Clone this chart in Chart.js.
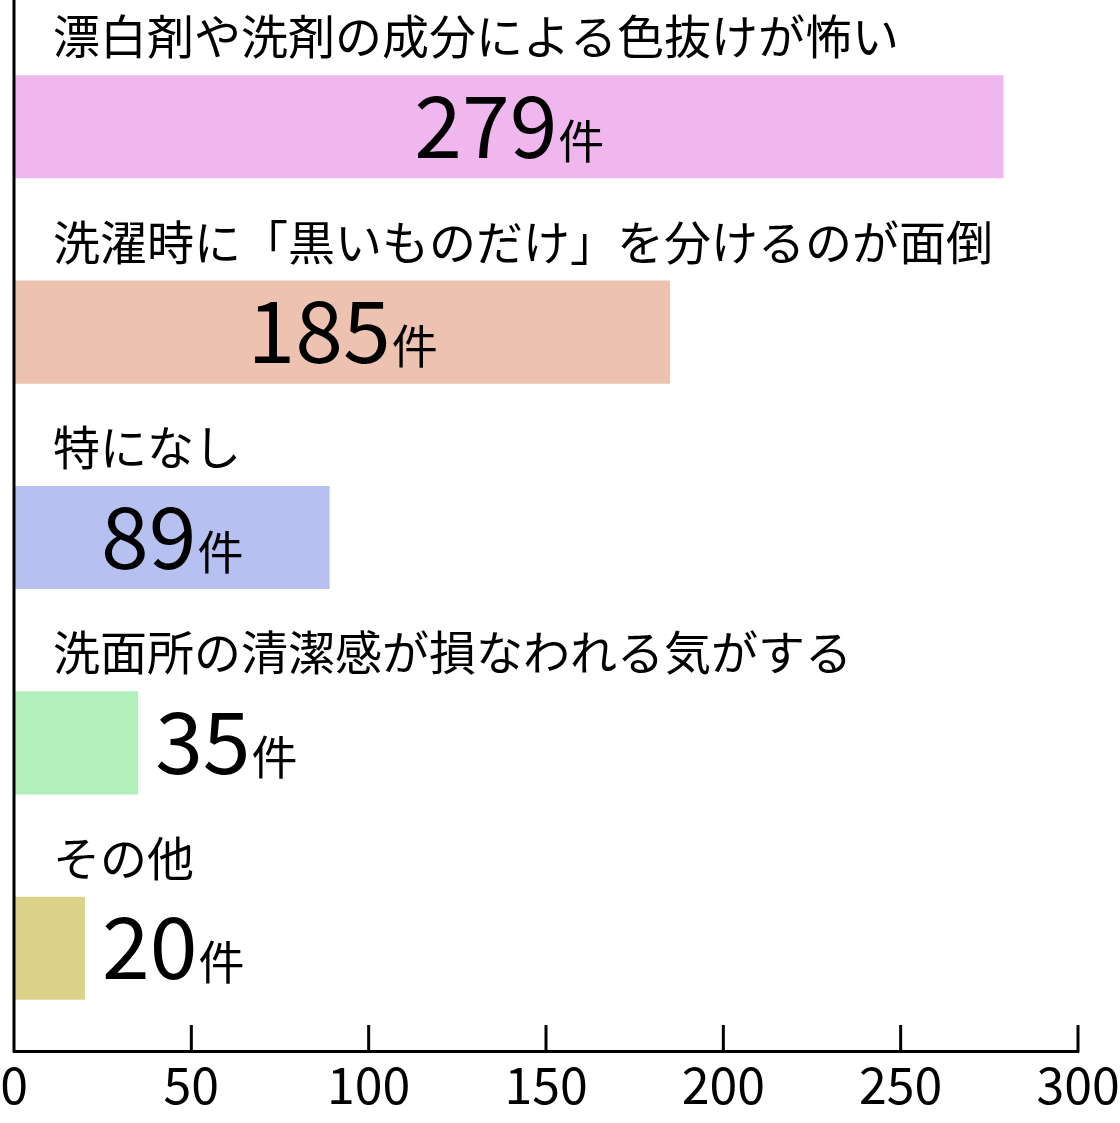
<!DOCTYPE html>
<html>
<head>
<meta charset="utf-8">
<script src="https://cdn.jsdelivr.net/npm/chart.js@4.4.1/dist/chart.umd.min.js"></script>
<style>
  html, body { margin: 0; padding: 0; background: #ffffff; }
  #wrap { width: 1120px; height: 1123px; }
</style>
</head>
<body>
<div id="wrap"><canvas id="c" width="1120" height="1123"></canvas></div>
<script>
// ---- data ----
const categories = [
  '漂白剤や洗剤の成分による色抜けが怖い',
  '洗濯時に「黒いものだけ」を分けるのが面倒',
  '特になし',
  '洗面所の清潔感が損なわれる気がする',
  'その他'
];
const values = [279, 185, 89, 35, 20];
const unitText = '件';
const barColors = ['#F0B6EE', '#EDC2B1', '#B6C1F1', '#B1F0BA', '#DBD38A'];
const xMin = 0;
const xMax = 300;
const xStep = 50;

const JP = '"Noto Sans CJK JP", "Noto Sans", sans-serif';

const decorPlugin = {
  id: 'decor',
  afterDraw(chart) {
    const ctx = chart.ctx;
    const xs = chart.scales.x;
    const meta = chart.getDatasetMeta(0);
    ctx.save();
    // vertical axis line
    ctx.strokeStyle = '#000';
    ctx.lineWidth = 3;
    ctx.beginPath();
    ctx.moveTo(xs.left, 0);
    ctx.lineTo(xs.left, xs.top + 1.5);
    ctx.stroke();
    // upward tick marks
    xs.ticks.forEach(t => {
      if (t.value === xMin) return;
      const px = xs.getPixelForValue(t.value);
      ctx.beginPath();
      ctx.moveTo(px, xs.top - 26);
      ctx.lineTo(px, xs.top + 1.5);
      ctx.stroke();
    });
    // category labels and value labels
    meta.data.forEach((bar, i) => {
      const top = bar.y - bar.height / 2;
      ctx.fillStyle = '#000';
      ctx.textAlign = 'left';
      ctx.textBaseline = 'alphabetic';
      ctx.font = '47px ' + JP;
      ctx.fillText(categories[i], xs.left + 39, top - 21);

      const numStr = String(values[i]);
      ctx.font = '86px ' + JP;
      const numW = ctx.measureText(numStr).width;
      const capH = ctx.measureText('0').actualBoundingBoxAscent;
      ctx.font = '46px ' + JP;
      const unitW = ctx.measureText(unitText).width;
      const totalW = numW + unitW;
      const barLeft = xs.getPixelForValue(0);
      const barW = bar.x - barLeft;
      let startX;
      if (totalW + 20 < barW) {
        startX = (barLeft + bar.x) / 2 - totalW / 2;
      } else {
        startX = bar.x + 17;
      }
      const baseY = bar.y + capH / 2;
      ctx.font = '86px ' + JP;
      ctx.fillText(numStr, startX, baseY);
      ctx.font = '46px ' + JP;
      ctx.fillText(unitText, startX + numW + 1, baseY);
    });
    ctx.restore();
  }
};

new Chart(document.getElementById('c'), {
  type: 'bar',
  data: {
    labels: categories,
    datasets: [{
      data: values,
      backgroundColor: barColors,
      borderWidth: 0,
      barPercentage: 1,
      categoryPercentage: 0.502
    }]
  },
  options: {
    indexAxis: 'y',
    responsive: false,
    animation: false,
    devicePixelRatio: 1,
    layout: { padding: { top: 24, left: 14, right: 42, bottom: 4 } },
    plugins: { legend: { display: false }, tooltip: { enabled: false } },
    scales: {
      x: {
        min: xMin,
        max: xMax,
        ticks: {
          stepSize: xStep,
          color: '#000',
          font: { family: JP, size: 50 },
          padding: 4,
          maxRotation: 0
        },
        grid: { display: false, drawTicks: false },
        border: { display: true, color: '#000', width: 3 },
        afterFit(scale) {
          scale.paddingLeft = 0;
          scale.paddingRight = 0;
        }
      },
      y: {
        display: false
      }
    }
  },
  plugins: [decorPlugin]
});
</script>
</body>
</html>
